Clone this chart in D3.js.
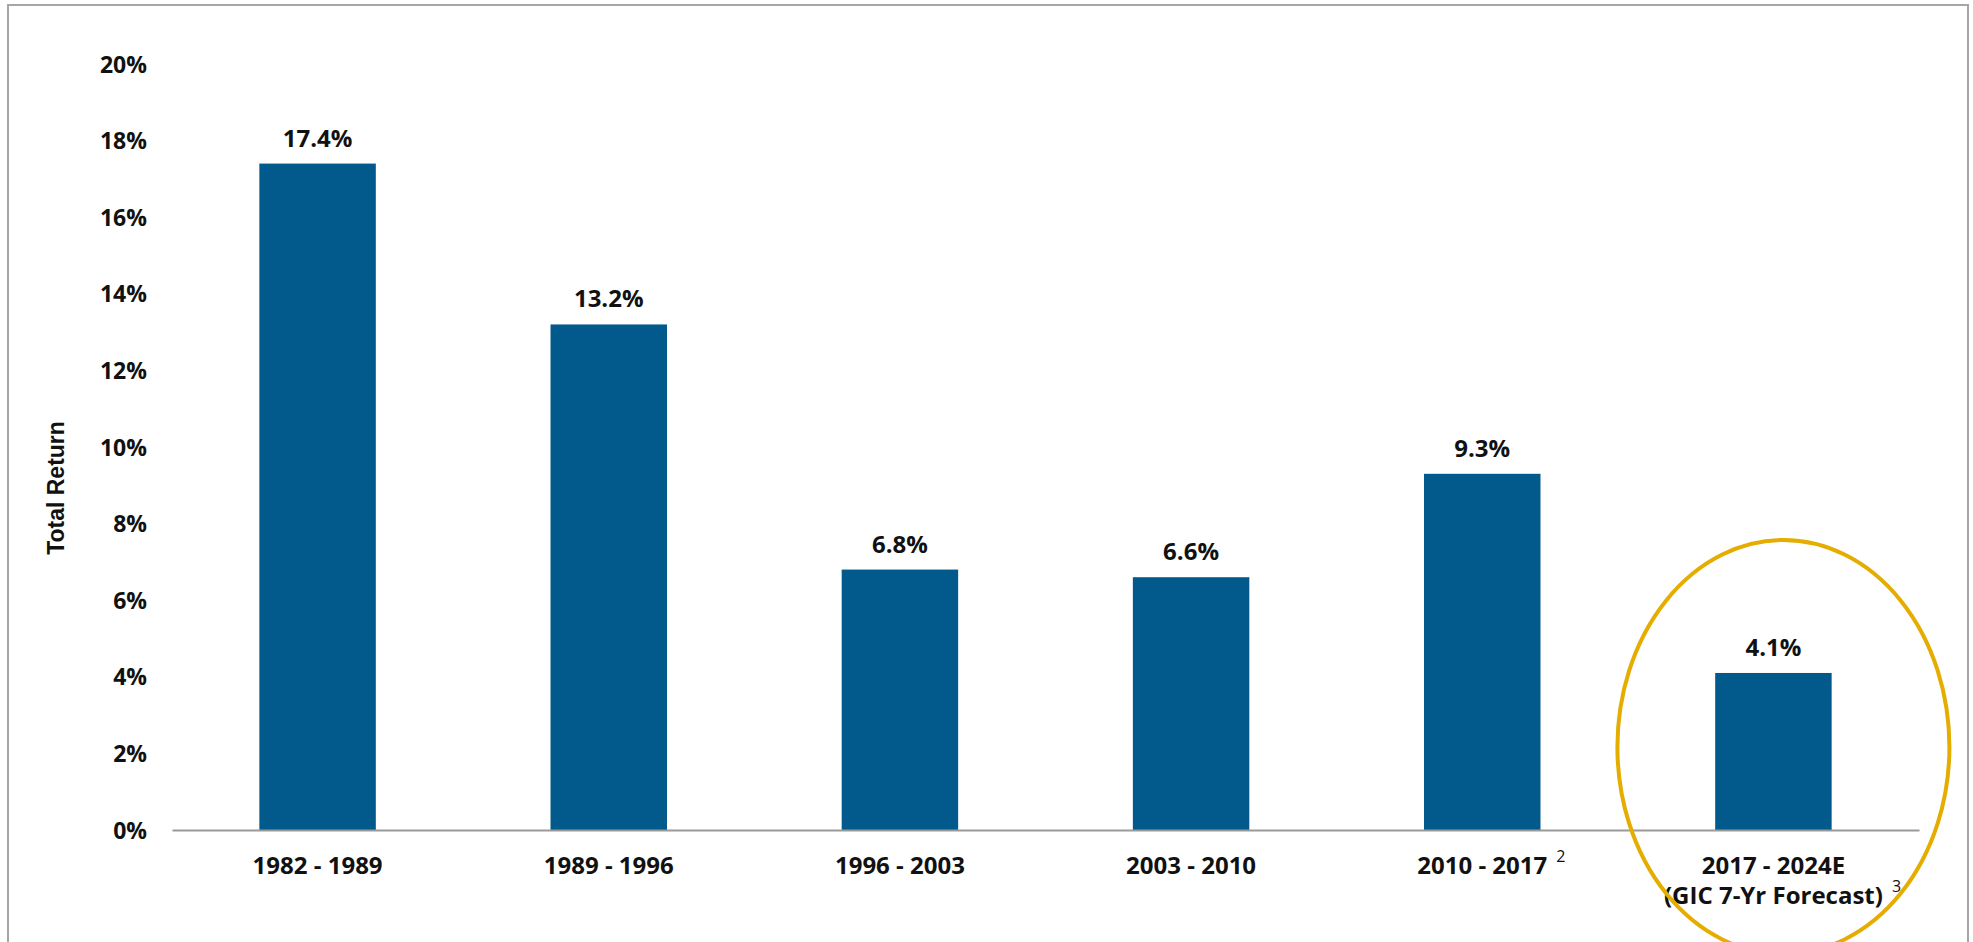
<!DOCTYPE html>
<html>
<head>
<meta charset="utf-8">
<script src="https://cdn.jsdelivr.net/npm/d3@7"></script>
<style>
  html, body { margin: 0; padding: 0; background: #fff; }
  svg { display: block; }
  .lbl { font-family: "Open Sans", Lato, sans-serif; font-weight: 700; fill: #111; }
</style>
</head>
<body>
<svg id="chart" width="1973" height="942"></svg>
<script>
// Period labels (first line), optional second line and footnote markers
const periods = ["1982 - 1989", "1989 - 1996", "1996 - 2003", "2003 - 2010", "2010 - 2017", "2017 - 2024E"];
const periodSubLines = ["", "", "", "", "", "(GIC 7-Yr Forecast)"];
const footnotes = ["", "", "", "", "2", "3"];
// Annualized total return per period
const totalReturns = [0.174, 0.132, 0.068, 0.066, 0.093, 0.041];
// Y-axis tick values
const yTicks = [0, 0.02, 0.04, 0.06, 0.08, 0.10, 0.12, 0.14, 0.16, 0.18, 0.20];
const highlightedPeriod = "2017 - 2024E";

const W = 1973, H = 942;
const plot = { left: 172, right: 1919, top: 64, bottom: 830 };
const svg = d3.select("#chart");

// Outer frame
svg.append("path")
  .attr("d", `M8,${H} V5 H1968 V${H}`)
  .attr("fill", "none")
  .attr("stroke", "#a6a6a6")
  .attr("stroke-width", 2);

const x = d3.scaleBand()
  .domain(periods)
  .range([plot.left, plot.right])
  .paddingInner(0.6)
  .paddingOuter(0.3);

const y = d3.scaleLinear()
  .domain([0, 0.20])
  .range([plot.bottom, plot.top]);

// Y axis (labels only)
const yAxis = svg.append("g")
  .attr("transform", `translate(${plot.left},0)`)
  .call(d3.axisLeft(y).tickValues(yTicks).tickFormat(d3.format(".0%")).tickSize(0).tickPadding(25));
yAxis.select(".domain").remove();
yAxis.selectAll("text")
  .attr("class", "lbl")
  .style("font-size", "23px")
  .attr("dy", "0.35em");

// Y axis title
svg.append("text")
  .attr("transform", `translate(64,488) rotate(-90)`)
  .attr("text-anchor", "middle")
  .style("font-family", "'Liberation Sans', Arial, sans-serif")
  .style("font-weight", 700)
  .style("font-size", "23px")
  .attr("fill", "#111")
  .text("Total Return");

// Bars
svg.append("g").selectAll("rect")
  .data(periods)
  .join("rect")
  .attr("x", d => x(d))
  .attr("width", x.bandwidth())
  .attr("y", (d, i) => y(totalReturns[i]))
  .attr("height", (d, i) => y(0) - y(totalReturns[i]))
  .attr("fill", "#02598b");

// Value labels
svg.append("g").selectAll("text")
  .data(periods)
  .join("text")
  .attr("class", "lbl")
  .style("font-size", "24px")
  .attr("text-anchor", "middle")
  .attr("x", d => x(d) + x.bandwidth() / 2)
  .attr("y", (d, i) => y(totalReturns[i]) - 17)
  .text((d, i) => d3.format(".1%")(totalReturns[i]));

// X axis baseline
const xAxis = svg.append("g")
  .attr("transform", `translate(0,${plot.bottom})`)
  .call(d3.axisBottom(x).tickSize(0).tickFormat(""));
xAxis.select(".domain").attr("stroke", "#9a9a9a").attr("stroke-width", 2);
xAxis.selectAll(".tick text").remove();

// Category labels (one text per category, second line as a tspan)
const catLabels = svg.append("g").selectAll("g")
  .data(periods)
  .join("g")
  .attr("transform", d => `translate(${x(d) + x.bandwidth() / 2},${plot.bottom})`);

const catText = catLabels.append("text")
  .attr("class", "lbl")
  .attr("text-anchor", "middle");

catText.append("tspan")
  .attr("class", "line1")
  .style("font-size", "24px")
  .attr("x", 0)
  .attr("y", 44)
  .text(d => d);

catText.filter((d, i) => periodSubLines[i] !== "")
  .append("tspan")
  .attr("class", "line2")
  .style("font-size", "24px")
  .attr("x", 0)
  .attr("y", 74)
  .text(d => periodSubLines[periods.indexOf(d)]);

// Footnote markers, set just after the last line of each label
catLabels.each(function (d, i) {
  if (!footnotes[i]) return;
  const g = d3.select(this);
  const last = periodSubLines[i] ? g.select(".line2") : g.select(".line1");
  const half = last.node().getComputedTextLength() / 2;
  const baseY = +last.attr("y");
  g.append("text")
    .style("font-family", "'Open Sans', sans-serif")
    .style("font-size", "16px")
    .attr("fill", "#111")
    .attr("x", half + 9)
    .attr("y", baseY - 12)
    .text(footnotes[i]);
});

// Highlight ring around the forecast period
svg.append("ellipse")
  .attr("cx", x(highlightedPeriod) + x.bandwidth() / 2 + 10)
  .attr("cy", y(0) - 83)
  .attr("rx", 166)
  .attr("ry", 207)
  .attr("fill", "none")
  .attr("stroke", "#e5ad00")
  .attr("stroke-width", 4);
</script>
</body>
</html>
